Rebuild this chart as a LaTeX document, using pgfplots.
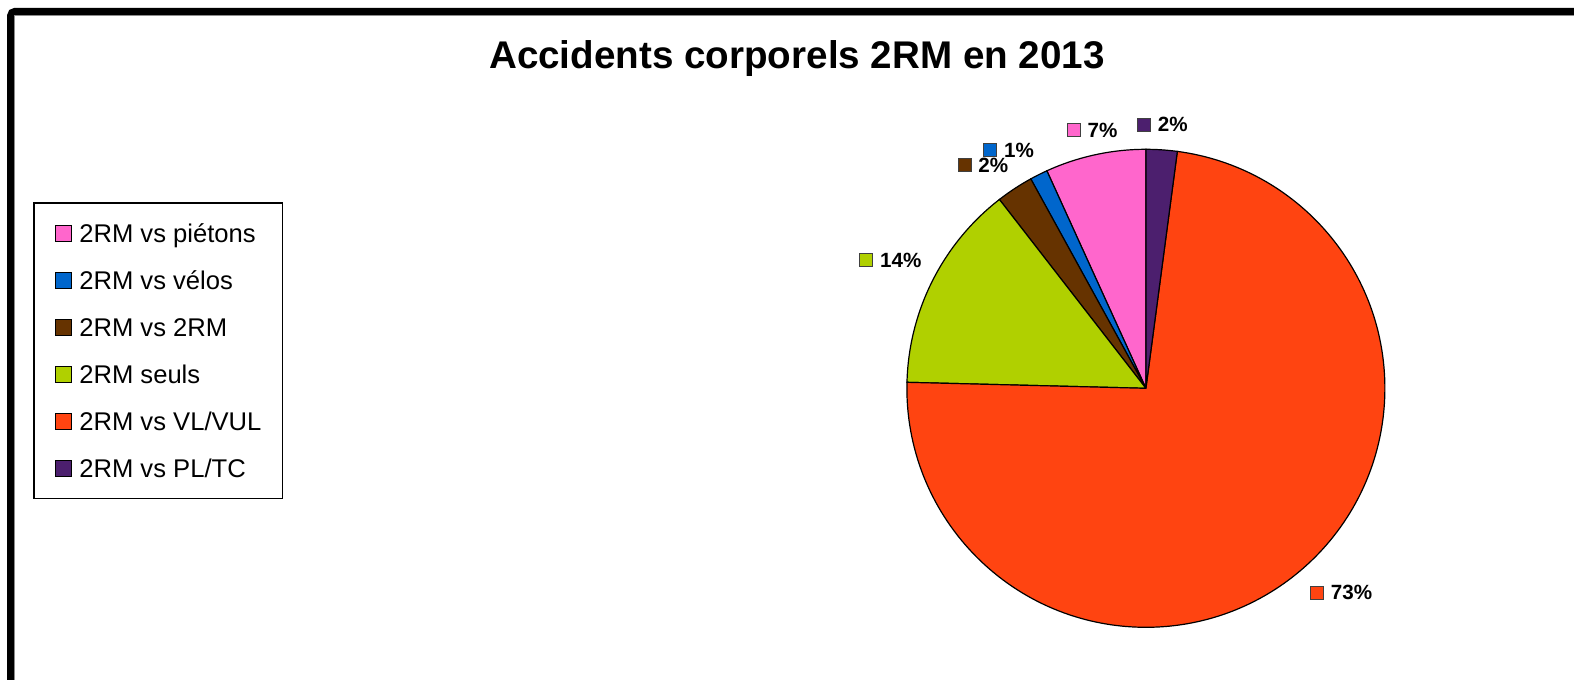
\documentclass[border=0pt]{standalone}
\usepackage{pgfplots}
\pgfplotsset{compat=1.18}
\usepackage{fontspec}
\setmainfont{Liberation Sans}

\definecolor{cPink}{HTML}{FF66CC}
\definecolor{cBlue}{HTML}{0066CC}
\definecolor{cBrown}{HTML}{663300}
\definecolor{cGreen}{HTML}{B0D000}
\definecolor{cRed}{HTML}{FF4411}
\definecolor{cPurple}{HTML}{4C1F6E}

% parts in percent, counter-clockwise from 12 o'clock
\def\vA{6.8}  % 2RM vs pietons
\def\vB{1.2}  % 2RM vs velos
\def\vC{2.5}  % 2RM vs 2RM
\def\vD{14.1} % 2RM seuls
\def\vE{73.3} % 2RM vs VL/VUL
\def\vF{2.1}  % 2RM vs PL/TC

\pgfmathsetmacro\aO{90}
\pgfmathsetmacro\aA{\aO+3.6*\vA}
\pgfmathsetmacro\aB{\aA+3.6*\vB}
\pgfmathsetmacro\aC{\aB+3.6*\vC}
\pgfmathsetmacro\aD{\aC+3.6*\vD}
\pgfmathsetmacro\aE{\aD+3.6*\vE}
\pgfmathsetmacro\aF{\aE+3.6*\vF}

\begin{document}
\begin{tikzpicture}
\useasboundingbox (0,0) rectangle (787bp,-340bp);
\begin{scope}[x=0.5bp,y=-0.5bp]
  \draw[line width=3.5bp, rounded corners=2bp] (10.7,1200) -- (10.7,11.5) -- (1800,11.5);
  \draw[black!45, line width=0.5bp] (15,1200) -- (15,15.8) -- (1800,15.8);
  \node[anchor=base, font=\bfseries\fontsize{19.3bp}{23bp}\selectfont] at (797,68.3) {Accidents corporels 2RM en 2013};
\end{scope}
\begin{axis}[
  at={(572.95bp,-194.15bp)}, anchor=origin,
  x=119.5bp, y=119.5bp, xmin=-1, xmax=1, ymin=-1, ymax=1,
  hide axis, clip=false, data cs=polar,
  legend cell align=left,
  legend image code/.code={\draw[#1, line width=0.5bp] (0bp,-4bp) rectangle (8bp,4bp);},
  legend style={at={(-1.8275,0.889)}, anchor=north west,
    draw=black, line width=0.6bp,
    inner xsep=10.35bp, inner ysep=8.6bp, row sep=10.5bp,
    font=\fontsize{12.8bp}{15bp}\selectfont,
    nodes={inner sep=0pt, text height=11bp, text depth=2bp},
    /tikz/every odd column/.append style={column sep=3.85bp}},
]
\addplot[fill=cPink, draw=black, line width=0.6bp] coordinates {(0,0) (\aO,1)} arc[start angle=\aO, end angle=\aA, radius=119.5bp] -- cycle;
\addlegendentry{2RM vs piétons}
\addplot[fill=cBlue, draw=black, line width=0.6bp] coordinates {(0,0) (\aA,1)} arc[start angle=\aA, end angle=\aB, radius=119.5bp] -- cycle;
\addlegendentry{2RM vs vélos}
\addplot[fill=cBrown, draw=black, line width=0.6bp] coordinates {(0,0) (\aB,1)} arc[start angle=\aB, end angle=\aC, radius=119.5bp] -- cycle;
\addlegendentry{2RM vs 2RM}
\addplot[fill=cGreen, draw=black, line width=0.6bp] coordinates {(0,0) (\aC,1)} arc[start angle=\aC, end angle=\aD, radius=119.5bp] -- cycle;
\addlegendentry{2RM seuls}
\addplot[fill=cRed, draw=black, line width=0.6bp] coordinates {(0,0) (\aD,1)} arc[start angle=\aD, end angle=\aE, radius=119.5bp] -- cycle;
\addlegendentry{2RM vs VL/VUL}
\addplot[fill=cPurple, draw=black, line width=0.6bp] coordinates {(0,0) (\aE,1)} arc[start angle=\aE, end angle=\aF, radius=119.5bp] -- cycle;
\addlegendentry{2RM vs PL/TC}

% data labels
\pgfplotsset{lbl/.style={only marks, mark=square*, mark size=3.25bp, forget plot,
  mark options={fill=#1, draw=black!75, line width=0.5bp}}}
\tikzset{lbltext/.style={anchor=west, xshift=6.75bp, inner sep=0pt, font=\bfseries\fontsize{10.3bp}{12bp}\selectfont}}
\addplot[lbl=cPink] coordinates {(105.6,1.122)} node[lbltext] {7\%};
\addplot[lbl=cBlue] coordinates {(123.2,1.190)} node[lbltext] {1\%};
\addplot[lbl=cBrown] coordinates {(129.1,1.203)} node[lbltext] {2\%};
\addplot[lbl=cGreen] coordinates {(155.4,1.287)} node[lbltext] {14\%};
\addplot[lbl=cRed] coordinates {(309.9,1.116)} node[lbltext] {73\%};
\addplot[lbl=cPurple] coordinates {(90.4,1.103)} node[lbltext] {2\%};
\end{axis}
\end{tikzpicture}
\end{document}
